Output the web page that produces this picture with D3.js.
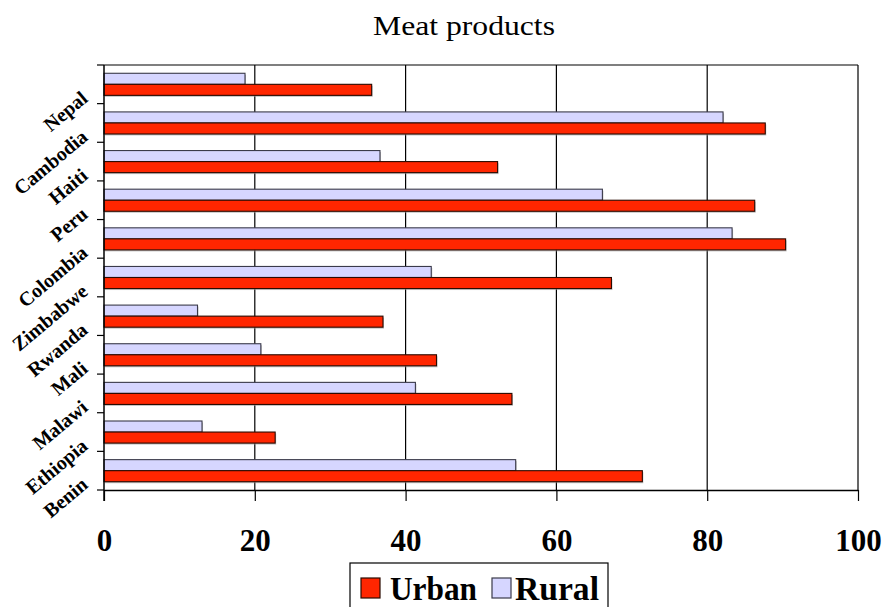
<!DOCTYPE html>
<html>
<head>
<meta charset="utf-8">
<script src="https://cdn.jsdelivr.net/npm/d3@7"></script>
<style>
  html, body { margin: 0; padding: 0; background: #fff; }
  svg { display: block; }
</style>
</head>
<body>
<svg id="chart" width="884" height="607"></svg>
<script>
const categories = ["Nepal", "Cambodia", "Haiti", "Peru", "Colombia", "Zimbabwe", "Rwanda", "Mali", "Malawi", "Ethiopia", "Benin"];
const urban = [35.5, 87.7, 52.2, 86.3, 90.4, 67.3, 37.0, 44.1, 54.1, 22.7, 71.4];
const rural = [18.7, 82.1, 36.6, 66.1, 83.3, 43.4, 12.4, 20.8, 41.3, 13.0, 54.6];
const seriesNames = ["Urban", "Rural"];
const xTicks = [0, 20, 40, 60, 80, 100];
const title = "Meat products";

const colors = { Urban: "#ff2600", Rural: "#d6d6ff" };
const strokes = { Urban: "#2a0a00", Rural: "#3a3a4a" };

const svg = d3.select("#chart");
const L = 104, R = 858, T = 65, B = 490;

const x = d3.scaleLinear().domain([0, 100]).range([L, R]);
const y = d3.scaleBand().domain(categories).range([T, B]).paddingInner(0).paddingOuter(0);
const sub = d3.scaleBand().domain(["Rural", "Urban"]).range([0, y.bandwidth()]).paddingInner(0).paddingOuter(0.75);

const serif = "'Liberation Serif', 'Times New Roman', serif";

// title
svg.append("text").attr("x", 373).attr("y", 35)
  .attr("textLength", 182).attr("lengthAdjust", "spacingAndGlyphs")
  .style("font-family", serif).style("font-size", "27px").text(title);

// gridlines
svg.append("g").selectAll("line").data(xTicks.filter(d => d > 0 && d < 100)).join("line")
  .attr("x1", d => x(d)).attr("x2", d => x(d)).attr("y1", T).attr("y2", B)
  .attr("stroke", "#000").attr("stroke-width", 1.2);

// plot border top / right
svg.append("line").attr("x1", L).attr("x2", R).attr("y1", T).attr("y2", T).attr("stroke", "#000").attr("stroke-width", 1.2);
svg.append("line").attr("x1", R).attr("x2", R).attr("y1", T).attr("y2", B).attr("stroke", "#000").attr("stroke-width", 1.2);

// bars
const rows = categories.map((c, i) => ({ cat: c, Urban: urban[i], Rural: rural[i] }));
const g = svg.append("g");
rows.forEach(r => {
  ["Rural", "Urban"].forEach(s => {
    const yy = y(r.cat) + sub(s);
    g.append("rect").attr("x", x(0) + 1).attr("y", yy + 1.5)
      .attr("width", x(r[s]) - x(0)).attr("height", sub.bandwidth())
      .attr("fill", "#9a9a9a").attr("opacity", 0.6);
    g.append("rect").attr("x", x(0)).attr("y", yy)
      .attr("width", x(r[s]) - x(0)).attr("height", sub.bandwidth())
      .attr("fill", colors[s]).attr("stroke", strokes[s]).attr("stroke-width", 1.1);
  });
});

// x axis
const xAxis = d3.axisBottom(x).tickValues(xTicks).tickSize(11).tickSizeOuter(0).tickPadding(28);
const xg = svg.append("g").attr("transform", `translate(0,${B})`).call(xAxis);
xg.select(".domain").attr("stroke", "#000").attr("stroke-width", 1.5);
xg.selectAll(".tick line").attr("stroke", "#000").attr("stroke-width", 1.2);
xg.selectAll(".tick text").style("font-family", serif).style("font-size", "31px")
  .style("font-weight", "bold").attr("fill", "#000").attr("dy", "0.71em");

// y axis (ticks at band boundaries)
svg.append("line").attr("x1", L).attr("x2", L).attr("y1", T).attr("y2", B + 11).attr("stroke", "#000").attr("stroke-width", 1.5);
const bounds = categories.map(c => y(c)).concat([B]);
svg.append("g").selectAll("line").data(bounds).join("line")
  .attr("x1", L - 7).attr("x2", L).attr("y1", d => d).attr("y2", d => d)
  .attr("stroke", "#000").attr("stroke-width", 1.2);

// category labels rotated
svg.append("g").selectAll("text").data(categories).join("text")
  .attr("transform", d => `translate(89,${y(d) + y.bandwidth() / 2 + 16}) rotate(-40)`)
  .attr("text-anchor", "end")
  .style("font-family", serif).style("font-size", "20px").style("font-weight", "bold")
  .text(d => d);

// legend
const lg = svg.append("g");
lg.append("rect").attr("x", 350).attr("y", 563).attr("width", 258).attr("height", 60)
  .attr("fill", "#fff").attr("stroke", "#000").attr("stroke-width", 1.2);
const legendItems = [
  { name: "Urban", sx: 361, tx: 390, w: 87 },
  { name: "Rural", sx: 492, tx: 515, w: 84 }
];
legendItems.forEach(it => {
  lg.append("rect").attr("x", it.sx).attr("y", 578).attr("width", 19).attr("height", 20)
    .attr("fill", colors[it.name]).attr("stroke", strokes[it.name]).attr("stroke-width", 1.2);
  lg.append("text").attr("x", it.tx).attr("y", 600)
    .attr("textLength", it.w).attr("lengthAdjust", "spacingAndGlyphs")
    .style("font-family", serif).style("font-size", "33px").style("font-weight", "bold")
    .text(it.name);
});
</script>
</body>
</html>
